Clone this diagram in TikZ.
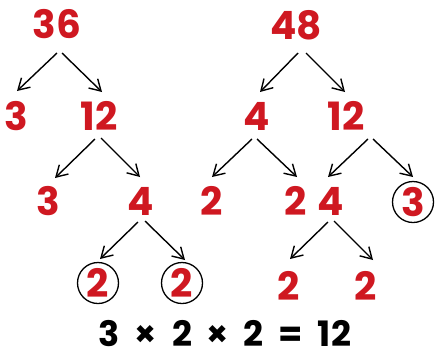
\documentclass[tikz,border=0pt]{standalone}
\usepackage{fontspec}
\setmainfont{Poppins}
\newfontfamily\eqfont{Poppins}[WordSpace=2.0]
\usetikzlibrary{arrows.meta}
\definecolor{numred}{RGB}{207,24,33}
\tikzset{
  num/.style={text=numred, font=\fontsize{39}{39}\selectfont\bfseries, inner sep=0pt},
  ringed/.style={num, draw=black, line width=1.3pt, circle, minimum size=41pt},
  arr/.style={-{Straight Barb[length=11pt,width=13pt]}, line width=1.4pt},
}
\begin{document}
\begin{tikzpicture}[x=1pt, y=-1pt]
  \useasboundingbox (0,0) rectangle (435,354);
  % tree of 36
  \node[num] (n36) at (57,24) {36};
  \node[num] (a3) at (16,116) {3};
  \node[num] (a12) at (99,116) {12};
  \node[num] (b3) at (48,201) {3};
  \node[num] (b4) at (141,201) {4};
  \node[ringed] (c2a) at (98,283) {2};
  \node[ringed] (c2b) at (182,283) {2};
  % tree of 48
  \node[num] (n48) at (296,25) {48};
  \node[num] (d4) at (257,116) {4};
  \node[num] (d12) at (346,116) {12};
  \node[num] (e2a) at (212,201) {2};
  \node[num] (e2b) at (296,201) {2};
  \node[num] (e4) at (331,201) {4};
  \node[ringed] (e3) at (413,202) {3};
  \node[num] (f2a) at (289,286) {2};
  \node[num] (f2b) at (366,286) {2};
  % arrows: parent/shift/child/shift
  \foreach \p/\ps/\c/\cs in {
      n36/{(0,29)}/a3/{(1,-25)}, n36/{(5,29)}/a12/{(3,-24)},
      a12/{(-4,23)}/b3/{(7,-23)}, a12/{(2,22)}/b4/{(-1,-24)},
      b4/{(-3,21)}/c2a/{(2,-24)}, b4/{(4,20)}/c2b/{(3,-23)},
      n48/{(2,28)}/d4/{(3,-24)}, n48/{(10,28)}/d12/{(-1,-24)},
      d4/{(-5,23)}/e2a/{(0,-24)}, d4/{(0,23)}/e2b/{(1,-24)},
      d12/{(22,23)}/e4/{(-3,-24)}, d12/{(27,23)}/e3/{(0,-25)},
      e4/{(-3,21)}/f2a/{(1,-27)}, e4/{(3,20)}/f2b/{(7,-26)}}
    \draw[arr] ([shift={\ps}]\p.center) -- ([shift={\cs}]\c.center);
  % result
  \node[font=\eqfont\fontsize{35}{35}\selectfont\bfseries, inner sep=0pt] (eq) at (225,334) {3 × 2 × 2 = 12};
\end{tikzpicture}
\end{document}
